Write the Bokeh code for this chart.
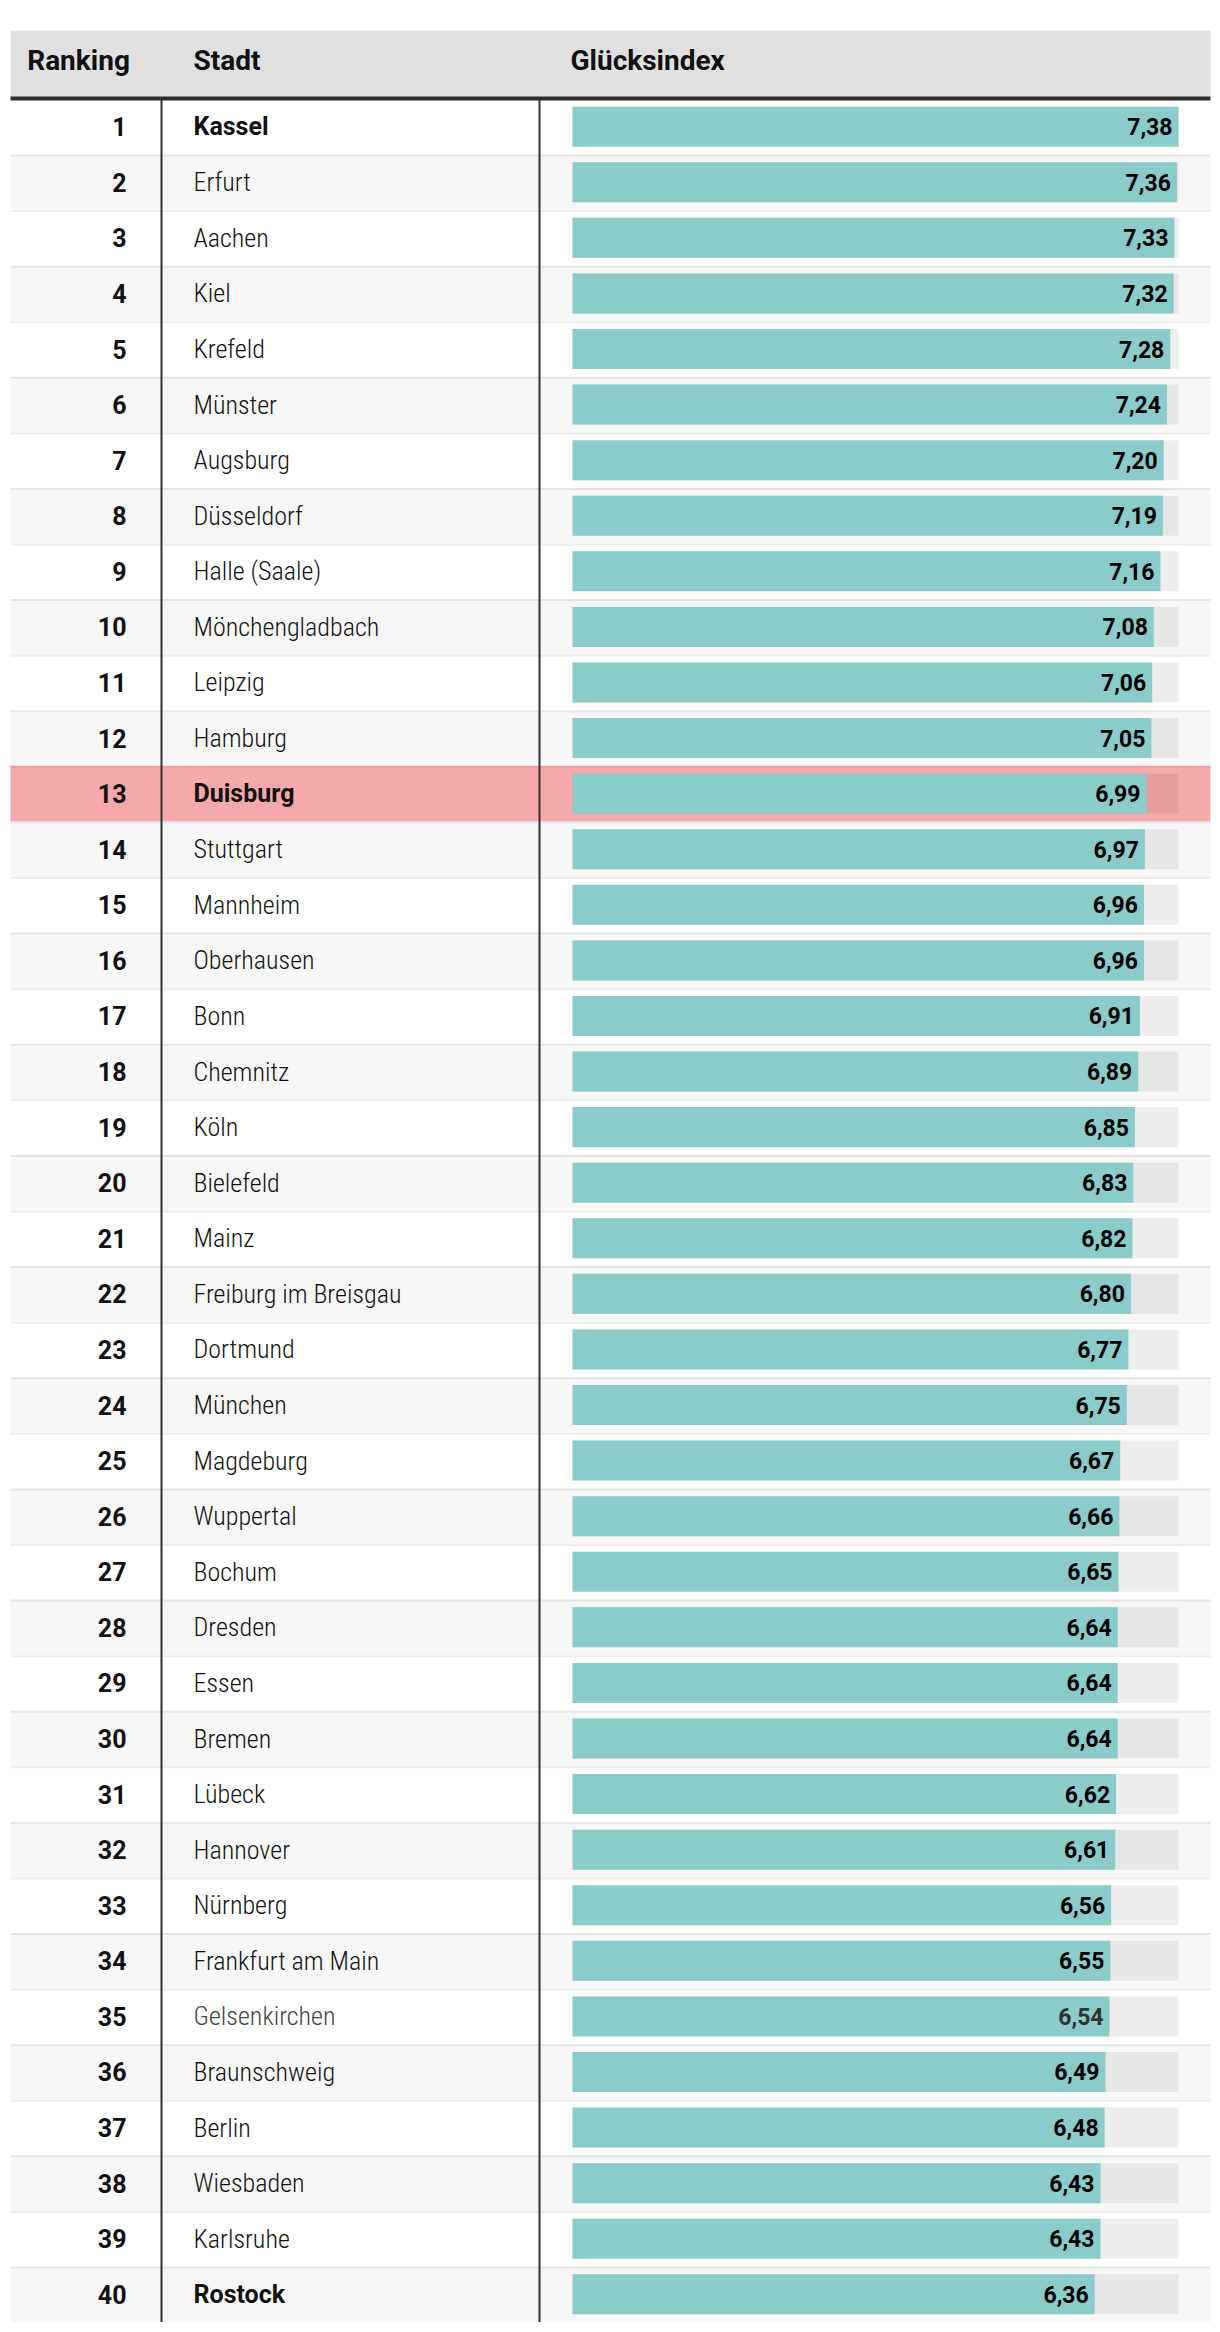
from bokeh.plotting import figure
from bokeh.models import Range1d, ColumnDataSource
from bokeh.core.properties import value
from bokeh.embed import file_html
from bokeh.resources import INLINE

# ---------------- data ----------------
ranks = list(range(1, 41))
cities = [
    "Kassel", "Erfurt", "Aachen", "Kiel", "Krefeld", "Münster", "Augsburg",
    "Düsseldorf", "Halle (Saale)", "Mönchengladbach", "Leipzig", "Hamburg",
    "Duisburg", "Stuttgart", "Mannheim", "Oberhausen", "Bonn", "Chemnitz",
    "Köln", "Bielefeld", "Mainz", "Freiburg im Breisgau", "Dortmund",
    "München", "Magdeburg", "Wuppertal", "Bochum", "Dresden", "Essen",
    "Bremen", "Lübeck", "Hannover", "Nürnberg", "Frankfurt am Main",
    "Gelsenkirchen", "Braunschweig", "Berlin", "Wiesbaden", "Karlsruhe",
    "Rostock",
]
scores = [
    7.38, 7.36, 7.33, 7.32, 7.28, 7.24, 7.20, 7.19, 7.16, 7.08,
    7.06, 7.05, 6.99, 6.97, 6.96, 6.96, 6.91, 6.89, 6.85, 6.83,
    6.82, 6.80, 6.77, 6.75, 6.67, 6.66, 6.65, 6.64, 6.64, 6.64,
    6.62, 6.61, 6.56, 6.55, 6.54, 6.49, 6.48, 6.43, 6.43, 6.36,
]
headers = ["Ranking", "Stadt", "Glücksindex"]
bold_cities = ["Kassel", "Duisburg", "Rostock"]
highlight_city = "Duisburg"
muted_city = "Gelsenkirchen"

# ---------------- layout (pixels) ----------------
W, H = 1220, 2330
ROW_PX = 55.58
ROW1_TOP = 98.4
HEADER_TOP = 30
TABLE_L, TABLE_R = 10, 1210
BAR_X0 = 572
TRACK_PX = 606
DIV1, DIV2 = 161, 539
RANK_RIGHT = 126
CITY_LEFT = 193
HEAD_X = [26.7, 193, 570]
HEAD_Y = 60

max_score = max(scores)
ppu = TRACK_PX / max_score


def px_x(px):
    return (px - BAR_X0) / ppu


y_top = 0.5 - ROW1_TOP / ROW_PX
y_bot = 0.5 + (H - ROW1_TOP) / ROW_PX


def px_y(py):
    return y_top + py / ROW_PX


BOLD = "Roboto"
LIGHT = "Roboto Condensed Light"

p = figure(width=W, height=H,
           x_range=Range1d(px_x(0), px_x(W)),
           y_range=Range1d(y_bot, y_top),
           x_axis_type=None, y_axis_type=None,
           output_backend="svg", toolbar_location=None, min_border=0)
p.grid.visible = False
p.outline_line_color = None
p.background_fill_color = "white"
p.border_fill_color = "white"

# row backgrounds
row_colors = []
for r, c in zip(ranks, cities):
    if c == highlight_city:
        row_colors.append("#f5a9aa")
    elif r % 2 == 0:
        row_colors.append("#f7f7f7")
    else:
        row_colors.append("#ffffff")
p.hbar(y=ranks, left=px_x(TABLE_L), right=px_x(TABLE_R), height=1.0,
       fill_color=row_colors, line_color=None)

# row separators (top border of each row)
sep_y = [r - 0.5 + 1.0 / ROW_PX for r in ranks[1:]]
p.segment(x0=px_x(TABLE_L), x1=px_x(TABLE_R), y0=sep_y, y1=sep_y,
          line_color="black", line_alpha=0.07, line_width=2)

# header
p.quad(left=px_x(TABLE_L), right=px_x(TABLE_R), top=px_y(HEADER_TOP), bottom=0.5,
       fill_color="#e0e0e0", line_color=None)
p.segment(x0=px_x(TABLE_L), x1=px_x(TABLE_R), y0=0.5 - 0.4 / ROW_PX, y1=0.5 - 0.4 / ROW_PX,
          line_color="#2e2e2e", line_width=4)
p.text(x=[px_x(v) for v in HEAD_X], y=[px_y(HEAD_Y)] * 3, text=headers,
       text_font=value(BOLD), text_font_style="bold", text_font_size="28px",
       text_color="#111111", text_align="left", text_baseline="middle")

# column dividers
p.segment(x0=[px_x(DIV1), px_x(DIV2)], x1=[px_x(DIV1), px_x(DIV2)],
          y0=[0.5, 0.5], y1=[40.5, 40.5], line_color="#333333", line_width=2)

# bar tracks and bars
p.hbar(y=ranks, left=0, right=max_score, height=0.72,
       fill_color="black", fill_alpha=0.068, line_color=None)
p.hbar(y=ranks, left=0, right=scores, height=0.72,
       fill_color="#8bcbca", line_color=None)

# rank numbers
p.text(x=px_x(RANK_RIGHT), y=ranks, text=[str(r) for r in ranks],
       text_font=value(BOLD), text_font_style="bold", text_font_size="25px",
       text_color="#111111", text_align="right", text_baseline="middle")

# city names: bold ones
bold_src = ColumnDataSource(dict(
    y=[r for r, c in zip(ranks, cities) if c in bold_cities],
    text=[c for c in cities if c in bold_cities],
))
p.text(x=px_x(CITY_LEFT), y="y", text="text", source=bold_src,
       text_font=value(BOLD), text_font_style="bold", text_font_size="25px",
       text_color="#111111", text_align="left", text_baseline="middle")

# city names: regular ones
reg = [(r, c) for r, c in zip(ranks, cities) if c not in bold_cities]
reg_src = ColumnDataSource(dict(
    y=[r for r, c in reg],
    text=[c for r, c in reg],
    color=["#444444" if c == muted_city else "#111111" for r, c in reg],
))
p.text(x=px_x(CITY_LEFT), y="y", text="text", source=reg_src,
       text_font=value(LIGHT), text_font_size="26px",
       text_color="color", text_align="left", text_baseline="middle")

# values
val_src = ColumnDataSource(dict(
    x=scores, y=ranks,
    text=[f"{v:.2f}".replace(".", ",") for v in scores],
    color=["#333333" if c == muted_city else "#000000" for c in cities],
))
p.text(x="x", y="y", text="text", source=val_src, x_offset=-6,
       text_font=value(BOLD), text_font_style="bold", text_font_size="23px",
       text_color="color", text_align="right", text_baseline="middle")

open("out.html", "w").write(file_html(p, INLINE))
